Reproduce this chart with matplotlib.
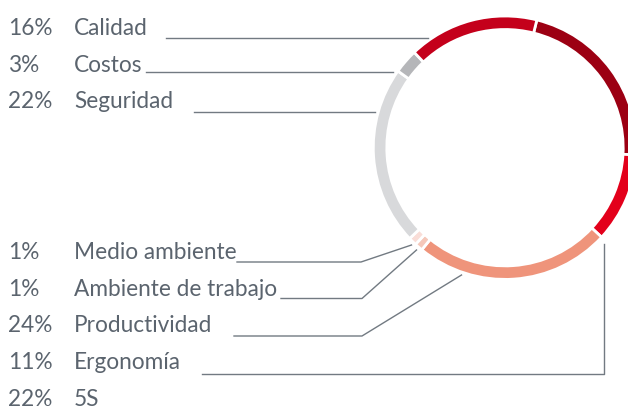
import matplotlib.pyplot as plt

W, H = 628, 407

# wedge order, clockwise from the top
labels = ["5S", "Ergonomía", "Productividad", "Ambiente de trabajo",
          "Medio ambiente", "Seguridad", "Costos", "Calidad"]
values = [22, 11, 24, 1, 1, 22, 3, 16]
colors = ["#9c0013", "#e3001b", "#ef947b", "#f5c7b9",
          "#f9ddd7", "#d8d9db", "#b5b6b9", "#c4001b"]

# legend rows, top to bottom
legend_order = ["Calidad", "Costos", "Seguridad", "Medio ambiente",
                "Ambiente de trabajo", "Productividad", "Ergonomía", "5S"]
baselines = [35, 72, 108.5, 259, 296, 332.5, 369, 405.5]

# leader lines in pixel coords (x, y from top)
leaders = {
    "Calidad": [(166, 37.5), (428, 37.5)],
    "Costos": [(146, 72), (393, 72)],
    "Seguridad": [(194, 112), (375, 112)],
    "Medio ambiente": [(237, 262), (361, 262), (411.5, 245)],
    "Ambiente de trabajo": [(281, 298.5), (362, 298.5), (416.5, 250)],
    "Productividad": [(234, 336), (362, 336), (461.5, 275)],
    "Ergonomía": [(202, 373.5), (603.5, 373.5), (603.5, 244)],
}

text_c = "#5b646e"
line_c = "#727a82"

fig = plt.figure(figsize=(W / 100, H / 100), dpi=100)
ax = fig.add_axes([0, 0, 1, 1])

ax.pie(values, colors=colors, startangle=76, counterclock=False,
       center=(505, H - 147.7), radius=131.7, frame=True,
       wedgeprops=dict(width=13.5, edgecolor="white", linewidth=2))

for name in legend_order:
    i = labels.index(name)
    y = H - baselines[legend_order.index(name)]
    ax.text(8, y, f"{values[i]}%", fontsize=16.3, family="Lato",
            color=text_c, va="baseline", ha="left")
    ax.text(74, y, name, fontsize=16.3, family="Lato",
            color=text_c, va="baseline", ha="left")
    if name in leaders:
        xs = [p[0] for p in leaders[name]]
        ys = [H - p[1] for p in leaders[name]]
        ax.plot(xs, ys, color=line_c, lw=1)

ax.set_xlim(0, W)
ax.set_ylim(0, H)
ax.set_aspect("equal")
ax.axis("off")

plt.savefig("out.png", dpi=100)
plt.close()
